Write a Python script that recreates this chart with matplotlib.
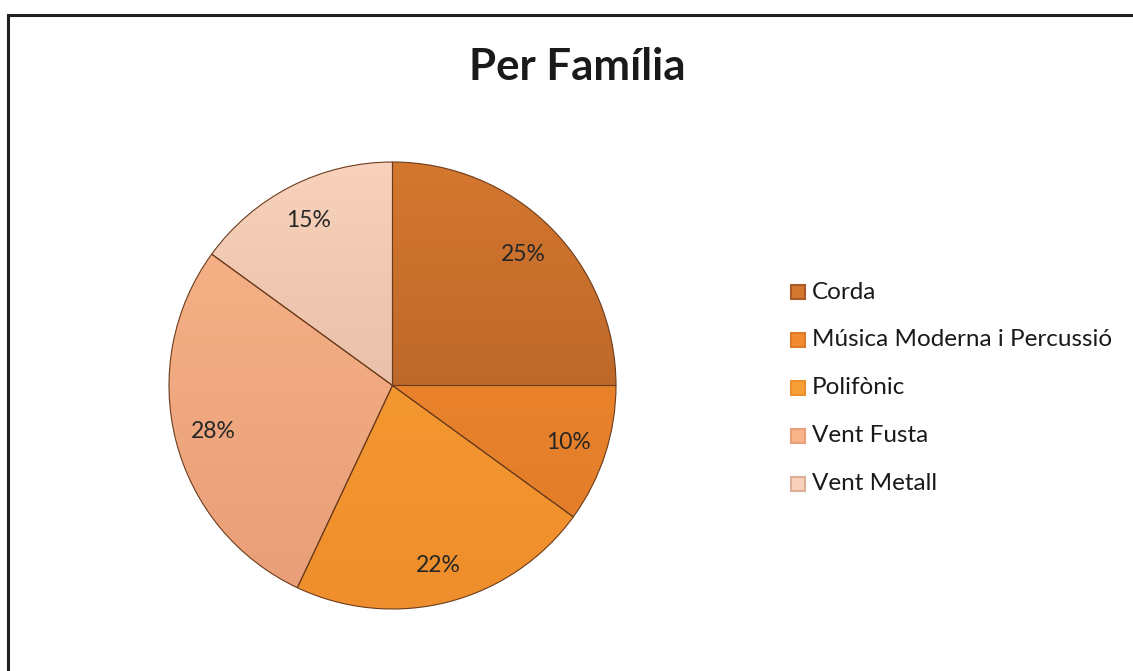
import numpy as np
import matplotlib.pyplot as plt
from matplotlib.patches import Rectangle
from matplotlib.colors import LinearSegmentedColormap

plt.rcParams['font.family'] = ['Lato', 'DejaVu Sans']

# data
labels = ['Corda', 'Música Moderna i Percussió', 'Polifònic', 'Vent Fusta', 'Vent Metall']
values = [25, 10, 22, 28, 15]
top_colors = ['#D4772F', '#F28A2E', '#F7A035', '#F8B488', '#F8D2BC']
bottom_colors = ['#A85A26', '#E07A28', '#EF8E2C', '#E89E78', '#DBAE98']

fig = plt.figure(figsize=(11.33, 6.71), dpi=100)

# frame around chart area (right/bottom edges run off the image)
fig.patches.append(Rectangle((8 / 1133, -0.1), 1.2, (671 - 15) / 671 + 0.1,
                             transform=fig.transFigure, fill=False,
                             edgecolor='#231f20', linewidth=2.2))

ax = fig.add_axes([168 / 1133, 62 / 671, 449 / 1133, 447 / 671])
wedges, texts, autotexts = ax.pie(values, startangle=90, counterclock=False,
                                  colors=top_colors, radius=1.0,
                                  autopct='%1.0f%%', pctdistance=0.83,
                                  wedgeprops=dict(edgecolor='#6b3c1c', linewidth=0.8),
                                  textprops=dict(fontsize=16.5, color='#262626'))

# vertical gradient fill for each slice
for w, c1, c2 in zip(wedges, top_colors, bottom_colors):
    cmap = LinearSegmentedColormap.from_list('g', [c2, c1])
    grad = np.linspace(0, 1, 256).reshape(-1, 1)
    im = ax.imshow(grad, cmap=cmap, extent=[-1, 1, -1, 1], origin='lower',
                   aspect='auto', zorder=w.get_zorder() - 0.01)
    im.set_clip_path(w)
    w.set_facecolor('none')

ax.set_xlim(-1.0, 1.0)
ax.set_ylim(-1.0, 1.0)
ax.set_aspect('equal')
ax.axis('off')

fig.text(577 / 1133, 1 - 67 / 671, 'Per Família', ha='center', va='center',
         fontsize=31.5, fontweight='bold', color='#1a1a1a')

# legend
for i, (lab, c1, c2) in enumerate(zip(labels, top_colors, bottom_colors)):
    y = 1 - (292 + 48 * i) / 671
    fig.patches.append(Rectangle((791 / 1133, y - 7 / 671), 14 / 1133, 14 / 671,
                                 transform=fig.transFigure, facecolor=c1,
                                 edgecolor=c2, linewidth=1.5))
    fig.text(812 / 1133, y, lab, ha='left', va='center', fontsize=17.5,
             color='#1a1a1a')

fig.savefig('out.png', dpi=100)
